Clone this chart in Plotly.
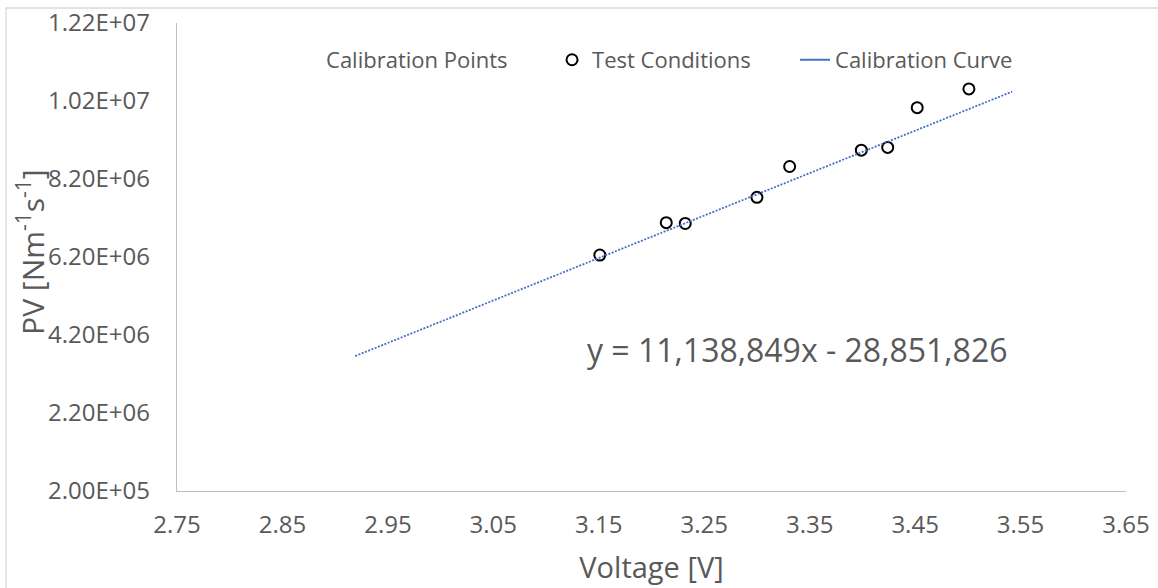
"""PV vs voltage calibration chart (Excel-style scatter with trendline)."""
import plotly.graph_objects as go

# ---------------------------------------------------------------------------
# Data
# ---------------------------------------------------------------------------
test_voltage = [3.151, 3.214, 3.232, 3.300, 3.331, 3.399, 3.424, 3.452, 3.501]
test_pv = [6.25e6, 7.08e6, 7.06e6, 7.73e6, 8.52e6, 8.94e6, 9.01e6, 1.003e7, 1.051e7]

curve_voltage = [2.919, 3.542]
curve_pv = [3.66e6, 1.044e7]

x_ticks = [2.75, 2.85, 2.95, 3.05, 3.15, 3.25, 3.35, 3.45, 3.55, 3.65]
y_ticks = [2.0e5, 2.2e6, 4.2e6, 6.2e6, 8.2e6, 1.02e7, 1.22e7]
y_tick_labels = ["2.00E+05", "2.20E+06", "4.20E+06", "6.20E+06",
                 "8.20E+06", "1.02E+07", "1.22E+07"]

x_title = "Voltage [V]"
y_title = "PV [Nm<sup>-1</sup>s<sup>-1</sup>]"
equation = "y = 11,138,849x - 28,851,826"

FONT = "Open Sans"
GREY = "#595959"
BLUE = "#4472C4"
AXIS = "#BFBFBF"

fig = go.Figure()

# Calibration points series has no visible marker in the original
fig.add_trace(go.Scatter(
    x=[None], y=[None], mode="markers", name="Calibration Points",
    marker=dict(size=1, color="rgba(0,0,0,0)"), legendwidth=221,
))
fig.add_trace(go.Scatter(
    x=test_voltage, y=test_pv, mode="markers", name="Test Conditions",
    marker=dict(symbol="circle-open", size=11, color="black",
                line=dict(width=2, color="black")),
    legendwidth=198,
))
fig.add_trace(go.Scatter(
    x=curve_voltage, y=curve_pv, mode="lines", name="Calibration Curve",
    line=dict(color=BLUE, width=1.8, dash="2px,1.5px"),
    showlegend=False,
))
# legend entry for the curve is drawn solid, like the original
fig.add_trace(go.Scatter(
    x=[None], y=[None], mode="lines", name="Calibration Curve",
    line=dict(color=BLUE, width=2), legendwidth=200,
))

fig.update_layout(
    width=1158,
    height=588,
    margin=dict(l=177, r=32, t=23, b=97),
    paper_bgcolor="white",
    plot_bgcolor="white",
    font=dict(family=FONT, color=GREY, size=22),
    legend=dict(
        orientation="h", x=0.1149, xanchor="left", y=0.921, yanchor="middle",
        font=dict(size=22, color=GREY), bgcolor="rgba(0,0,0,0)",
    ),
    xaxis=dict(
        range=[2.75, 3.65], tickvals=x_ticks, tickformat=".2f",
        showgrid=False, zeroline=False, showline=True, linecolor=AXIS,
        linewidth=1.3, ticks="", ticklabelstandoff=12, automargin=False,
        ticklabeloverflow="allow",
        tickfont=dict(size=24, color=GREY),
        title=dict(text=x_title, font=dict(size=29, color=GREY), standoff=18),
    ),
    yaxis=dict(
        range=[2.0e5, 1.22e7], tickvals=y_ticks, ticktext=y_tick_labels,
        showgrid=False, zeroline=False, showline=True, linecolor=AXIS,
        linewidth=1.3, ticks="", ticklabelstandoff=21, automargin=False,
        ticklabeloverflow="allow",
        tickfont=dict(size=24, color=GREY),
    ),
    annotations=[
        # y-axis title, placed by hand to sit where Excel put it
        dict(
            text=y_title, xref="paper", yref="paper", x=-0.1538, y=0.511,
            xanchor="center", yanchor="middle", textangle=-90, showarrow=False,
            font=dict(size=30, color=GREY),
        ),
        dict(
            text=equation, xref="paper", yref="paper", x=0.430, y=0.303,
            xanchor="left", yanchor="middle", showarrow=False,
            font=dict(size=32, color=GREY),
        ),
    ],
    # thin chart-area border, only its top and left edges are in view
    shapes=[dict(
        type="rect", xref="paper", yref="paper",
        x0=-0.1802, x1=1.04, y0=-0.22, y1=1.032,
        line=dict(color="#D9D9D9", width=1.3), layer="below",
    )],
)

# drop the default body margin so the figure sits at the window's corner
fig.write_html(
    "out.html",
    config={"displayModeBar": False},
    post_script="document.body.style.margin = '0';",
)
